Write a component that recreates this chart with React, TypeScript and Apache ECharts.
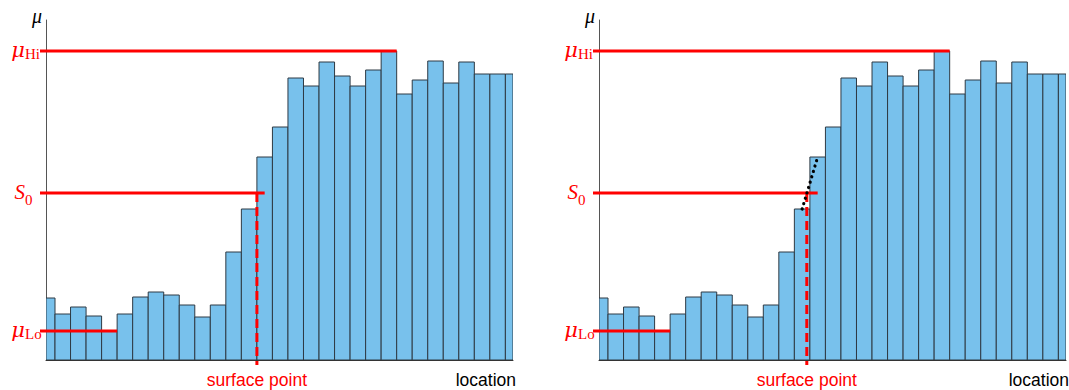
import React, { useEffect, useRef } from "react";
import * as echarts from "echarts";

// ---- data ----
const barPositions = [0,1,2,3,4,5,6,7,8,9,10,11,12,13,14,15,16,17,18,19,20,21,22,23,24,25,26,27,28,29,30];
const barValues = [62, 46, 53, 44, 29, 46, 63, 68, 65, 55, 43, 55, 108, 151, 203, 233, 282, 274, 298, 284, 274, 290, 309, 266, 280, 299, 277, 298, 286, 286, 286];
const levelBase = ["μ", "S", "μ"];
const levelSub = ["Hi", "0", "Lo"];
const levelValues = [309, 167, 29];
const levelEnds = [23, 14.5, 5];
const surfacePoints = [14, 13.8];
const interpSegment = [[13.5, 151], [14.5, 203]];
const xMin = 0.42;
const xMax = 30.49;
const yMin = 0;
const yMax = 340;

// ---- layout ----
const PANEL_LEFTS = [46, 599];
const GRID_W = 467;
const GRID_TOP = 20;
const GRID_H = 340;
const SUB_OFFSETS = [10, 14, 10];
const RED = "#ff0000";
const BAR_FILL = "#78c1ec";
const BAR_STROKE = "#2e3a44";
const SERIF = "'Liberation Serif', 'DejaVu Serif', serif";
const SERIF_WIDE = "'DejaVu Serif', 'Liberation Serif', serif";
const SANS = "'Liberation Sans', Arial, sans-serif";

export default function App() {
  const ref = useRef<HTMLDivElement>(null);
  useEffect(() => {
    if (!ref.current) return;
    const chart = echarts.init(ref.current, null, { renderer: "svg" });

    const barData = barPositions.map((p, i) => [p, barValues[i]]);
    const levelData = levelValues.map((v, i) => [levelEnds[i], v, i]);

    const grids = PANEL_LEFTS.map((l) => ({ left: l, top: GRID_TOP, width: GRID_W, height: GRID_H }));
    const xAxes = PANEL_LEFTS.map((_, k) => ({
      type: "value",
      gridIndex: k,
      min: xMin,
      max: xMax,
      axisLine: { show: true, lineStyle: { color: "#333", width: 1 } },
      axisTick: { show: false },
      axisLabel: { show: false },
      splitLine: { show: false },
    }));
    const yAxes = PANEL_LEFTS.map((_, k) => ({
      type: "value",
      gridIndex: k,
      min: yMin,
      max: yMax,
      axisLine: { show: true, lineStyle: { color: "#555", width: 1 } },
      axisTick: { show: false },
      axisLabel: { show: false },
      splitLine: { show: false },
    }));

    const series: any[] = [];
    PANEL_LEFTS.forEach((_, k) => {
      // bars
      series.push({
        type: "custom",
        xAxisIndex: k,
        yAxisIndex: k,
        data: barData,
        clip: true,
        renderItem: (params: any, api: any) => {
          const x0 = api.value(0);
          const h = api.value(1);
          const p0 = api.coord([x0, 0]);
          const p1 = api.coord([x0 + 1, h]);
          const cs = params.coordSys;
          const shape = echarts.graphic.clipRectByRect(
            { x: p0[0], y: p1[1], width: p1[0] - p0[0], height: p0[1] - p1[1] },
            { x: cs.x, y: cs.y - 2, width: cs.width, height: cs.height + 2 }
          );
          if (!shape) return null;
          return {
            type: "rect",
            shape,
            style: { fill: BAR_FILL, stroke: BAR_STROKE, lineWidth: 1 },
          };
        },
        z: 2,
      });
      // level lines with labels
      series.push({
        type: "custom",
        xAxisIndex: k,
        yAxisIndex: k,
        data: levelData,
        clip: false,
        renderItem: (params: any, api: any) => {
          const idx = api.value(2);
          const end = api.coord([api.value(0), api.value(1)]);
          const cs = params.coordSys;
          const x0 = cs.x - 6;
          const y = end[1];
          const isS = levelBase[idx] === "S";
          return {
            type: "group",
            children: [
              {
                type: "line",
                shape: { x1: x0, y1: y, x2: end[0], y2: y },
                style: { stroke: RED, lineWidth: 3 },
              },
              {
                type: "text",
                x: cs.x - 21,
                y: y - 1,
                style: {
                  text: levelBase[idx],
                  fill: RED,
                  font: isS ? `italic 21px ${SERIF}` : `italic 21px ${SERIF_WIDE}`,
                  align: "right",
                  verticalAlign: "middle",
                },
              },
              {
                type: "text",
                x: cs.x - 21,
                y: y + SUB_OFFSETS[idx],
                style: {
                  text: levelSub[idx],
                  fill: RED,
                  font: `15px ${SERIF}`,
                  align: "left",
                  verticalAlign: "bottom",
                },
              },
            ],
          };
        },
        z: 5,
      });
      // surface point dashed line + label
      series.push({
        type: "custom",
        xAxisIndex: k,
        yAxisIndex: k,
        data: [[surfacePoints[k], levelValues[1]]],
        clip: false,
        renderItem: (params: any, api: any) => {
          const top = api.coord([api.value(0), api.value(1)]);
          const base = api.coord([api.value(0), 0]);
          return {
            type: "group",
            children: [
              {
                type: "line",
                shape: { x1: top[0], y1: top[1], x2: top[0], y2: base[1] + 5 },
                style: { stroke: RED, lineWidth: 3, lineDash: [9, 5] },
              },
              {
                type: "text",
                x: top[0],
                y: base[1] + 20,
                style: {
                  text: "surface point",
                  fill: RED,
                  font: `17.5px ${SANS}`,
                  align: "center",
                  verticalAlign: "middle",
                },
              },
            ],
          };
        },
        z: 6,
      });
    });
    // interpolation dotted line (right panel)
    series.push({
      type: "custom",
      xAxisIndex: 1,
      yAxisIndex: 1,
      data: [[interpSegment[0][0], interpSegment[0][1], interpSegment[1][0], interpSegment[1][1]]],
      clip: false,
      renderItem: (_params: any, api: any) => {
        const a = api.coord([api.value(0), api.value(1)]);
        const b = api.coord([api.value(2), api.value(3)]);
        return {
          type: "line",
          shape: { x1: a[0], y1: a[1], x2: b[0], y2: b[1] },
          style: { stroke: "#000", lineWidth: 3.2, lineDash: [0.1, 5.5], lineCap: "round" },
        };
      },
      z: 7,
    });

    const graphic: any[] = [];
    PANEL_LEFTS.forEach((l) => {
      graphic.push({
        type: "text",
        x: l - 4,
        y: GRID_TOP - 4,
        style: {
          text: "μ",
          fill: "#000",
          font: `italic 20px ${SERIF}`,
          align: "right",
          verticalAlign: "middle",
        },
      });
      graphic.push({
        type: "text",
        x: l + GRID_W + 3,
        y: GRID_TOP + GRID_H + 20,
        style: {
          text: "location",
          fill: "#000",
          font: `17.5px ${SANS}`,
          align: "right",
          verticalAlign: "middle",
        },
      });
    });

    chart.setOption({
      animation: false,
      backgroundColor: "#fff",
      grid: grids,
      xAxis: xAxes,
      yAxis: yAxes,
      series,
      graphic,
    });
    return () => chart.dispose();
  }, []);
  return (
    <div
      ref={ref}
      style={{ position: "fixed", left: 0, top: 0, width: 1069, height: 390 }}
    />
  );
}
